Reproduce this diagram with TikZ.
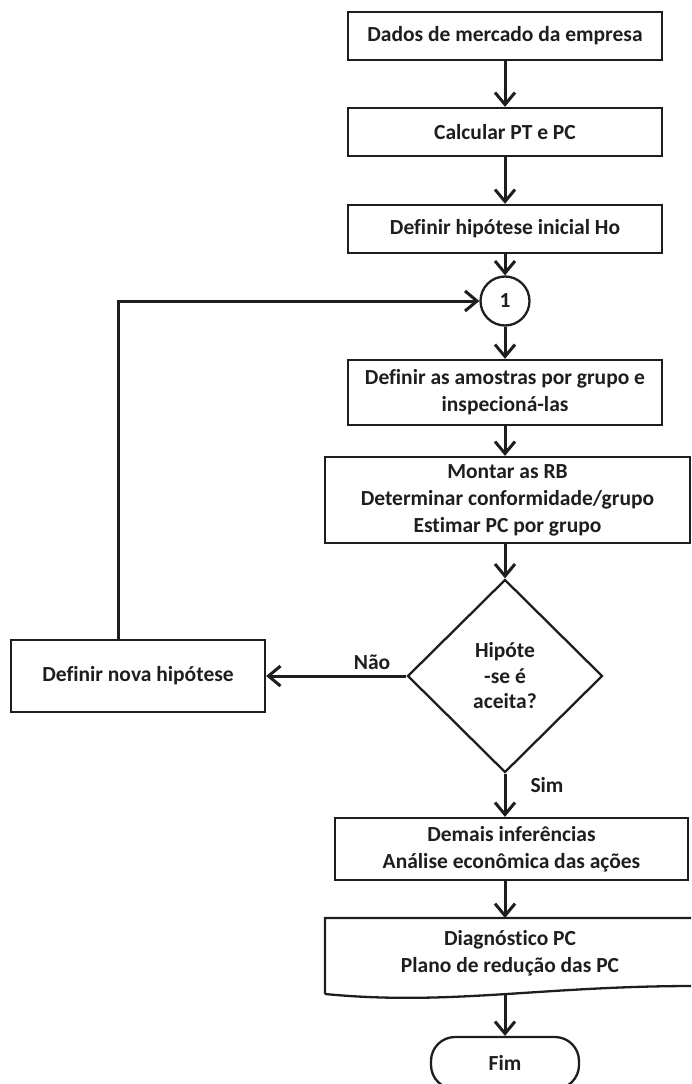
\documentclass[tikz,border=0pt]{standalone}
\usepackage{fontspec}
\setmainfont[Ligatures=NoCommon]{Carlito}
\usetikzlibrary{arrows.meta,shapes.geometric}
\definecolor{ink}{HTML}{1E1E1E}
\begin{document}
\begin{tikzpicture}[x=1pt,y=-1pt,
  lbl/.style={font=\bfseries\fontsize{21.5}{27}\selectfont, text=ink, align=center, inner sep=0pt},
  box/.style={lbl, draw=ink, line width=2.3pt, fill=white},
  shapeline/.style={draw=ink, line width=2.3pt},
  flow/.style={draw=ink, line width=3pt, -{Straight Barb[length=12pt,width=20pt]}}
]
\useasboundingbox (0,0) rectangle (691,1084);
\clip (0,0) rectangle (691,1084);

% vertical axis of the main flow
\coordinate (axis) at (505,0);
\coordinate (corner) at (118,301);

% process steps
\node[box, minimum width=314pt, minimum height=48pt] (dados) at (505,36) {Dados de mercado da empresa};
\node[box, minimum width=314pt, minimum height=48pt] (calc) at (505,132) {Calcular PT e PC};
\node[box, minimum width=314pt, minimum height=48pt] (hip) at (505,229) {Definir hipótese inicial Ho};
\node[box, circle, minimum size=49pt] (c1) at (505,301) {1};
\node[box, minimum width=314pt, minimum height=65pt] (amos) at (505,392.5) {Definir as amostras por grupo e\\inspecioná-las};
\node[box, minimum width=365pt, minimum height=86pt] (rb) at (507.5,500) {Montar as RB\\Determinar conformidade/grupo\\Estimar PC por grupo};
\node[box, diamond, minimum width=195pt, minimum height=193pt,
      font=\bfseries\fontsize{21.5}{25.5}\selectfont] (dec) at (505,676) {Hipóte\\-se é\\aceita?};
\node[box, minimum width=254pt, minimum height=72pt] (nova) at (138,676) {Definir nova hipótese};
\node[box, minimum width=353pt, minimum height=62pt] (dem) at (511.5,849) {Demais inferências\\Análise econômica das ações};

% document shape with wavy lower edge
\coordinate (dtl) at (325,918);
\coordinate (dbot) at (505,995);
\draw[shapeline] (325,994) -- (dtl) -- (694,918) -- (694,986)
  .. controls (540,986) and (450,1006) .. (325,994);
\node[lbl] (doc) at (510,953.5) {Diagnóstico PC\\Plano de redução das PC};

% terminator
\node[box, rounded corners=24pt, minimum width=148pt, minimum height=52pt] (fim) at (505,1063) {Fim};

% connectors
\draw[flow] (dados) -- (calc);
\draw[flow] (calc) -- (hip);
\draw[flow] (hip) -- (c1);
\draw[flow] (c1) -- (amos);
\draw[flow] (amos.south) -- (rb.north -| axis);
\draw[flow] (rb.south -| axis) -- (dec.north);
\draw[flow] (dec.west) -- node[lbl, pos=0.245, above=5pt] {Não} (nova.east);
\draw[flow] (nova.north -| corner) |- (c1.west);
\draw[flow] (dec.south) -- node[lbl, pos=0.27, right=24pt] {Sim} (dem.north -| axis);
\draw[flow] (dem.south -| axis) -- (dtl -| axis);
\draw[flow] (dbot) -- (fim.north);
\end{tikzpicture}
\end{document}
